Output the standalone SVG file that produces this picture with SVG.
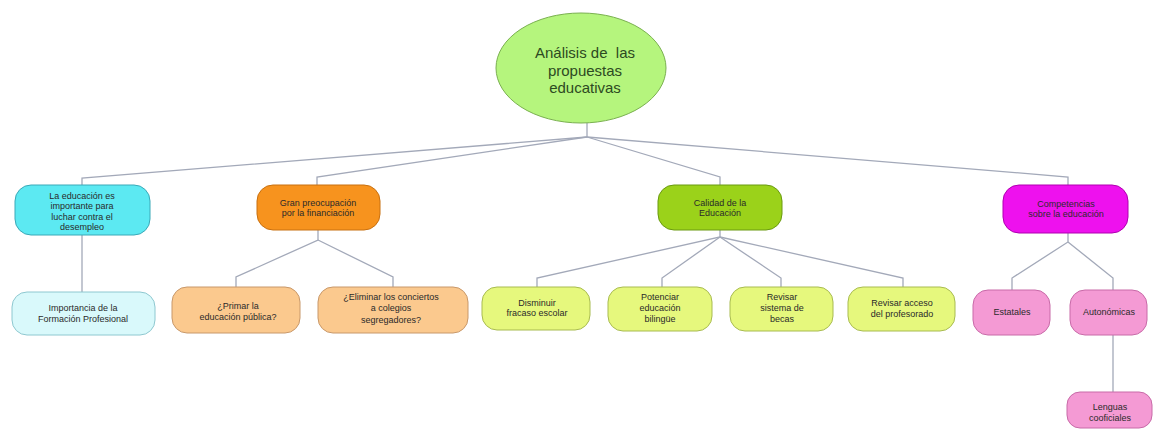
<svg xmlns="http://www.w3.org/2000/svg" width="1156" height="430" viewBox="0 0 1156 430">
<style>
  .t { font-family: "Liberation Sans", Arial, sans-serif; font-size: 9px; fill: #2a2a2a; text-anchor: middle; }
  .rt { font-family: "Liberation Sans", Arial, sans-serif; font-size: 15px; fill: #2d4a22; text-anchor: middle; white-space: pre; }
  .c { fill: none; stroke: #a3a9b9; stroke-width: 1.3; }
  .cyan { fill: #5ce9f2; stroke: #3aa9b8; stroke-width: 1; }
  .lcyan { fill: #d9f9fb; stroke: #8ec8d0; stroke-width: 1; }
  .orange { fill: #f7931e; stroke: #c87010; stroke-width: 1; }
  .lorange { fill: #fbc98e; stroke: #c8986a; stroke-width: 1; }
  .green { fill: #9bd21a; stroke: #6a9a10; stroke-width: 1; }
  .lgreen { fill: #e6f87d; stroke: #a8bb50; stroke-width: 1; }
  .mag { fill: #ee11ee; stroke: #b000b0; stroke-width: 1; }
  .pink { fill: #f49ad4; stroke: #c86aa8; stroke-width: 1; }
</style>
<rect width="1156" height="430" fill="#ffffff"/>
<g id="connectors">
  <path class="c" d="M587,123 V137"/>
  <path class="c" d="M587,137 L82,178 V185"/>
  <path class="c" d="M587,137 L317,177 V185"/>
  <path class="c" d="M587,137 L720,177 V185"/>
  <path class="c" d="M587,137 L1068,177 V185"/>
  <path class="c" d="M82,235 V292"/>
  <path class="c" d="M318,230 V240 L236,277 V287"/>
  <path class="c" d="M318,240 L393,277 V287"/>
  <path class="c" d="M720,230 V237 L537,278 V287"/>
  <path class="c" d="M720,237 L662,278 V287"/>
  <path class="c" d="M720,237 L781,278 V287"/>
  <path class="c" d="M720,237 L903,278 V287"/>
  <path class="c" d="M1068,233 V242 L1012,278 V290"/>
  <path class="c" d="M1068,242 L1113,278 V290"/>
  <path class="c" d="M1113,335 V392"/>
</g>
<g id="root">
  <ellipse cx="581" cy="68" rx="85" ry="55" fill="#b5f57d" stroke="#7ab050" stroke-width="1"/>
  <text class="rt" x="585" y="58" xml:space="preserve">Análisis de  las</text>
  <text class="rt" x="585" y="76">propuestas</text>
  <text class="rt" x="585" y="93">educativas</text>
</g>
<g id="n-desempleo">
  <rect class="cyan" x="15" y="185" width="135" height="50" rx="16"/>
  <text class="t" x="82" y="199">La educación es</text>
  <text class="t" x="82" y="209">importante para</text>
  <text class="t" x="82" y="220">luchar contra el</text>
  <text class="t" x="82" y="230">desempleo</text>
</g>
<g id="n-fp">
  <rect class="lcyan" x="12" y="292" width="143" height="43" rx="15"/>
  <text class="t" x="83" y="311">Importancia de la</text>
  <text class="t" x="83" y="322">Formación Profesional</text>
</g>
<g id="n-financiacion">
  <rect class="orange" x="257" y="185" width="123" height="45" rx="16"/>
  <text class="t" x="318" y="206">Gran preocupación</text>
  <text class="t" x="318" y="216">por la financiación</text>
</g>
<g id="n-primar">
  <rect class="lorange" x="172" y="287" width="128" height="46" rx="15"/>
  <text class="t" x="238" y="309">¿Primar la</text>
  <text class="t" x="238" y="320">educación pública?</text>
</g>
<g id="n-eliminar">
  <rect class="lorange" x="318" y="287" width="150" height="46" rx="15"/>
  <text class="t" x="391" y="300">¿Eliminar los conciertos</text>
  <text class="t" x="391" y="311">a colegios</text>
  <text class="t" x="391" y="323">segregadores?</text>
</g>
<g id="n-calidad">
  <rect class="green" x="658" y="185" width="124" height="45" rx="16"/>
  <text class="t" x="720" y="206">Calidad de la</text>
  <text class="t" x="720" y="216">Educación</text>
</g>
<g id="n-fracaso">
  <rect class="lgreen" x="482" y="287" width="108" height="43" rx="15"/>
  <text class="t" x="537" y="306">Disminuir</text>
  <text class="t" x="537" y="316">fracaso escolar</text>
</g>
<g id="n-bilingue">
  <rect class="lgreen" x="608" y="287" width="104" height="44" rx="15"/>
  <text class="t" x="660" y="300">Potenciar</text>
  <text class="t" x="660" y="311">educación</text>
  <text class="t" x="660" y="322">bilingüe</text>
</g>
<g id="n-becas">
  <rect class="lgreen" x="730" y="287" width="103" height="44" rx="15"/>
  <text class="t" x="782" y="300">Revisar</text>
  <text class="t" x="782" y="311">sistema de</text>
  <text class="t" x="782" y="322">becas</text>
</g>
<g id="n-profesorado">
  <rect class="lgreen" x="848" y="287" width="107" height="44" rx="15"/>
  <text class="t" x="902" y="306">Revisar acceso</text>
  <text class="t" x="902" y="317">del profesorado</text>
</g>
<g id="n-competencias">
  <rect class="mag" x="1003" y="185" width="125" height="48" rx="16"/>
  <text class="t" x="1066" y="207">Competencias</text>
  <text class="t" x="1066" y="217">sobre la educación</text>
</g>
<g id="n-estatales">
  <rect class="pink" x="973" y="290" width="77" height="45" rx="15"/>
  <text class="t" x="1012" y="315">Estatales</text>
</g>
<g id="n-autonomicas">
  <rect class="pink" x="1070" y="290" width="77" height="45" rx="15"/>
  <text class="t" x="1109" y="315">Autonómicas</text>
</g>
<g id="n-lenguas">
  <rect class="pink" x="1067" y="392" width="85" height="36" rx="13"/>
  <text class="t" x="1110" y="410">Lenguas</text>
  <text class="t" x="1110" y="421">cooficiales</text>
</g>
</svg>
